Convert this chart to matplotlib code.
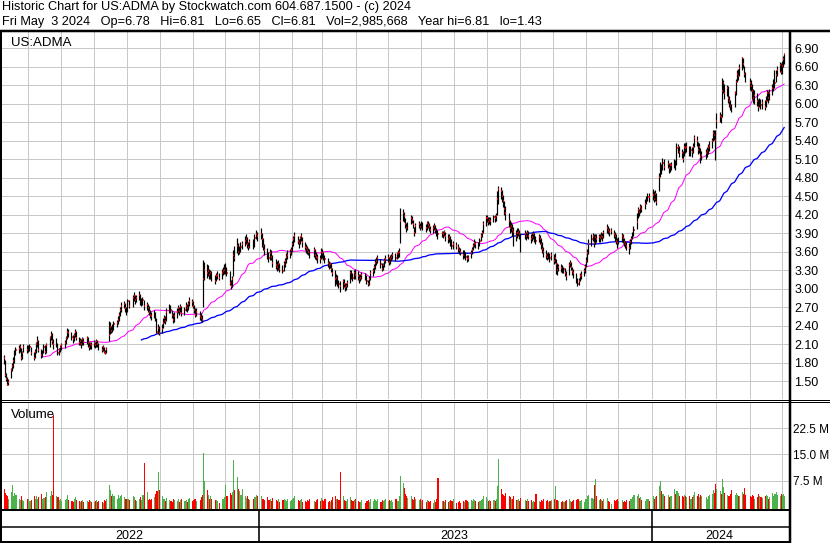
import numpy as np
import pandas as pd
import matplotlib
matplotlib.use('Agg')
import matplotlib.pyplot as plt
import matplotlib.dates as mdates

plt.rcParams['font.family'] = ['Liberation Sans', 'DejaVu Sans']

# --- daily bars, 2022-05-03 .. 2024-05-03 (one line per month) ---
close = [
    1.95, 1.98, 1.90, 1.88, 1.87, 1.60, 1.53, 1.44, 1.48, 1.68, 1.75, 1.82, 1.95, 2.00, 2.02, 2.05, 1.88, 1.95, 2.06, 2.00,
    2.02, 2.05, 1.95, 1.88, 1.98, 2.10, 2.15, 2.00, 1.92, 1.96, 2.05, 1.98, 2.08, 2.20, 2.25, 2.15, 2.10, 2.14, 1.95, 2.00, 2.05,
    2.08, 2.12, 2.20, 2.30, 2.28, 2.22, 2.18, 2.25, 2.30, 2.20, 2.12, 2.15, 2.10, 2.18, 2.14, 2.20, 2.12, 2.05, 2.10, 2.08,
    2.12, 2.08, 2.15, 2.10, 2.05, 2.00, 2.05, 1.98, 1.96, 2.02, 2.25, 2.38, 2.32, 2.35, 2.42, 2.45, 2.50, 2.58, 2.65, 2.72, 2.75, 2.68, 2.62,
    2.80, 2.72, 2.85, 2.88, 2.82, 2.85, 2.90, 2.78, 2.80, 2.81, 2.72, 2.74, 2.68, 2.62, 2.58, 2.55, 2.60, 2.52, 2.30, 2.36, 2.28,
    2.35, 2.45, 2.52, 2.48, 2.62, 2.70, 2.65, 2.58, 2.50, 2.55, 2.62, 2.68, 2.64, 2.70, 2.60, 2.66, 2.72, 2.68, 2.75, 2.80, 2.78,
    2.72, 2.65, 2.58, 2.62, 2.55, 2.52, 2.50, 3.15, 3.30, 3.26, 3.28, 3.22, 3.25, 3.18, 3.12, 3.20, 3.22, 3.18, 3.25, 3.28, 3.30,
    3.38, 3.25, 3.10, 3.05, 3.15, 3.55, 3.50, 3.70, 3.60, 3.65, 3.68, 3.72, 3.78, 3.80, 3.72, 3.68, 3.75, 3.70, 3.82, 3.88, 3.85,
    3.88, 3.80, 3.70, 3.62, 3.55, 3.50, 3.58, 3.52, 3.42, 3.38, 3.35, 3.40, 3.32, 3.28, 3.40, 3.45, 3.52, 3.55, 3.58, 3.62,
    3.72, 3.80, 3.85, 3.78, 3.74, 3.82, 3.85, 3.75, 3.68, 3.66, 3.62, 3.60, 3.58, 3.62, 3.55, 3.52, 3.50, 3.48, 3.60,
    3.58, 3.52, 3.48, 3.42, 3.38, 3.40, 3.32, 3.25, 3.15, 3.18, 3.10, 3.08, 3.05, 3.12, 3.08, 3.02, 3.05, 3.10, 3.25, 3.22, 3.18, 3.25, 3.22,
    3.20, 3.15, 3.18, 3.22, 3.20, 3.12, 3.08, 3.15, 3.25, 3.28, 3.35, 3.42, 3.45, 3.50, 3.40, 3.32, 3.38, 3.45, 3.48,
    3.50, 3.44, 3.48, 3.52, 3.55, 3.50, 3.56, 3.58, 3.60, 4.10, 4.22, 4.18, 4.05, 3.98, 4.02, 4.15, 4.12, 4.05, 3.90, 4.02, 4.05, 4.00,
    4.05, 4.02, 3.98, 4.06, 4.04, 4.00, 3.96, 3.98, 4.02, 3.95, 3.92, 3.88, 3.90, 3.88, 3.92, 3.85, 3.80, 3.84, 3.78, 3.70, 3.72,
    3.70, 3.66, 3.62, 3.60, 3.55, 3.58, 3.52, 3.48, 3.50, 3.58, 3.62, 3.70, 3.74, 3.72, 3.70, 3.78, 3.85, 3.90, 4.05, 4.15,
    4.15, 4.08, 4.12, 4.10, 4.16, 4.14, 4.18, 4.45, 4.62, 4.58, 4.50, 4.42, 4.30, 4.22, 4.10, 3.98, 4.02, 3.95, 3.92, 3.85, 3.90, 3.92, 3.88,
    3.82, 3.88, 3.85, 3.90, 3.86, 3.80, 3.84, 3.88, 3.82, 3.78, 3.84, 3.80, 3.72, 3.65, 3.60, 3.55, 3.52, 3.56, 3.50, 3.54,
    3.45, 3.50, 3.40, 3.30, 3.36, 3.34, 3.30, 3.32, 3.26, 3.20, 3.38, 3.42, 3.35, 3.28, 3.25, 3.15, 3.08, 3.12, 3.20, 3.22, 3.28, 3.35,
    3.45, 3.58, 3.72, 3.80, 3.85, 3.74, 3.84, 3.80, 3.84, 3.82, 3.86, 3.84, 3.90, 3.98, 3.95, 3.92, 3.94, 3.88, 3.85, 3.78, 3.74,
    3.78, 3.85, 3.82, 3.76, 3.72, 3.70, 3.66, 3.75, 3.80, 3.88, 3.95, 4.08, 4.27, 4.24, 4.32, 4.30, 4.38, 4.45, 4.49, 4.48,
    4.52, 4.46, 4.54, 4.40, 4.82, 4.95, 4.90, 5.04, 4.98, 5.02, 4.95, 5.00, 5.01, 5.06, 4.98, 5.28, 5.30, 5.22, 5.20, 5.10, 5.30,
    5.28, 5.30, 5.20, 5.25, 5.22, 5.30, 5.44, 5.40, 5.25, 5.30, 5.14, 5.17, 5.20, 5.24, 5.28, 5.32, 5.39, 5.52, 5.50, 5.42,
    5.72, 5.80, 5.78, 6.20, 6.33, 6.17, 6.25, 6.10, 6.04, 5.96, 5.93, 6.17, 6.36, 6.49, 6.45, 6.58, 6.74, 6.65, 6.49, 6.40,
    6.33, 6.28, 6.20, 6.09, 6.14, 6.05, 5.95, 6.04, 5.98, 6.01, 5.95, 6.05, 6.17, 6.09, 6.18, 6.25, 6.30, 6.33, 6.47, 6.55, 6.63, 6.52,
    6.62, 6.72, 6.81,
]
high = [
    2.00, 2.02, 1.99, 1.94, 1.92, 1.84, 1.63, 1.56, 1.53, 1.71, 1.80, 1.90, 2.01, 2.06, 2.08, 2.10, 2.04, 1.99, 2.10, 2.09,
    2.08, 2.10, 2.06, 1.98, 2.02, 2.14, 2.24, 2.16, 2.02, 2.00, 2.10, 2.08, 2.12, 2.24, 2.31, 2.28, 2.18, 2.20, 2.12, 2.04, 2.09,
    2.12, 2.16, 2.24, 2.36, 2.34, 2.30, 2.25, 2.28, 2.35, 2.32, 2.22, 2.20, 2.18, 2.22, 2.20, 2.24, 2.22, 2.14, 2.14, 2.13,
    2.16, 2.14, 2.18, 2.17, 2.12, 2.07, 2.09, 2.06, 2.01, 2.05, 2.47, 2.46, 2.40, 2.42, 2.47, 2.50, 2.56, 2.62, 2.70, 2.78, 2.80, 2.77, 2.70,
    2.84, 2.82, 2.90, 2.95, 2.90, 2.89, 2.96, 2.92, 2.85, 2.86, 2.82, 2.79, 2.76, 2.72, 2.66, 2.62, 2.65, 2.63, 2.52, 2.42, 2.40,
    2.42, 2.52, 2.58, 2.56, 2.68, 2.76, 2.74, 2.66, 2.60, 2.62, 2.68, 2.74, 2.70, 2.76, 2.72, 2.70, 2.78, 2.75, 2.80, 2.86, 2.84,
    2.80, 2.74, 2.68, 2.68, 2.64, 2.60, 2.58, 3.46, 3.44, 3.40, 3.38, 3.32, 3.30, 3.28, 3.22, 3.26, 3.28, 3.25, 3.32, 3.36, 3.40,
    3.42, 3.36, 3.28, 3.14, 3.20, 3.62, 3.70, 3.82, 3.74, 3.70, 3.75, 3.78, 3.85, 3.88, 3.84, 3.76, 3.80, 3.80, 3.88, 3.95, 3.92,
    3.98, 3.90, 3.82, 3.72, 3.66, 3.60, 3.64, 3.62, 3.55, 3.48, 3.45, 3.46, 3.42, 3.38, 3.45, 3.50, 3.58, 3.62, 3.65, 3.68,
    3.78, 3.86, 3.92, 3.86, 3.80, 3.86, 3.90, 3.84, 3.76, 3.72, 3.70, 3.66, 3.64, 3.68, 3.64, 3.60, 3.56, 3.55, 3.66,
    3.64, 3.60, 3.55, 3.50, 3.45, 3.44, 3.42, 3.34, 3.30, 3.24, 3.22, 3.14, 3.12, 3.16, 3.15, 3.10, 3.09, 3.14, 3.30, 3.30, 3.26, 3.30, 3.32,
    3.28, 3.24, 3.24, 3.27, 3.26, 3.22, 3.14, 3.20, 3.30, 3.34, 3.40, 3.48, 3.52, 3.55, 3.48, 3.42, 3.42, 3.50, 3.54,
    3.57, 3.52, 3.54, 3.56, 3.60, 3.58, 3.60, 3.63, 3.66, 4.31, 4.30, 4.24, 4.14, 4.06, 4.08, 4.20, 4.18, 4.12, 4.00, 4.06, 4.10, 4.06,
    4.10, 4.08, 4.05, 4.10, 4.10, 4.06, 4.02, 4.03, 4.06, 4.04, 3.98, 3.96, 3.94, 3.93, 3.96, 3.92, 3.88, 3.88, 3.86, 3.80, 3.78,
    3.76, 3.72, 3.68, 3.66, 3.62, 3.63, 3.60, 3.55, 3.55, 3.62, 3.67, 3.74, 3.80, 3.78, 3.76, 3.82, 3.90, 3.95, 4.10, 4.20,
    4.20, 4.16, 4.17, 4.16, 4.20, 4.19, 4.22, 4.58, 4.66, 4.65, 4.60, 4.52, 4.42, 4.34, 4.22, 4.12, 4.08, 4.05, 4.00, 3.95, 3.98, 3.98, 3.96,
    3.90, 3.95, 3.92, 3.96, 3.93, 3.88, 3.90, 3.94, 3.90, 3.86, 3.88, 3.87, 3.82, 3.75, 3.68, 3.63, 3.58, 3.60, 3.58, 3.60,
    3.56, 3.58, 3.48, 3.42, 3.40, 3.40, 3.38, 3.36, 3.34, 3.28, 3.44, 3.46, 3.44, 3.36, 3.32, 3.26, 3.18, 3.18, 3.25, 3.28, 3.33, 3.40,
    3.52, 3.64, 3.80, 3.88, 3.90, 3.88, 3.88, 3.88, 3.88, 3.88, 3.92, 3.90, 3.96, 4.05, 4.02, 3.98, 3.98, 3.95, 3.92, 3.88, 3.82,
    3.84, 3.90, 3.88, 3.82, 3.78, 3.76, 3.74, 3.80, 3.86, 3.92, 4.02, 4.22, 4.32, 4.30, 4.38, 4.36, 4.45, 4.50, 4.55, 4.56,
    4.62, 4.58, 4.60, 4.56, 4.88, 5.05, 5.02, 5.12, 5.10, 5.08, 5.04, 5.04, 5.06, 5.10, 5.08, 5.36, 5.35, 5.32, 5.26, 5.24, 5.36,
    5.36, 5.38, 5.32, 5.32, 5.30, 5.36, 5.50, 5.48, 5.38, 5.36, 5.28, 5.24, 5.26, 5.30, 5.34, 5.40, 5.45, 5.58, 5.58, 5.58,
    5.85, 5.86, 5.84, 6.41, 6.38, 6.32, 6.30, 6.28, 6.12, 6.06, 6.00, 6.20, 6.40, 6.55, 6.56, 6.64, 6.76, 6.74, 6.62, 6.52,
    6.42, 6.38, 6.32, 6.24, 6.22, 6.18, 6.08, 6.10, 6.08, 6.08, 6.06, 6.12, 6.22, 6.20, 6.24, 6.32, 6.40, 6.55, 6.55, 6.62, 6.68, 6.66,
    6.70, 6.78, 6.81,
]
low = [
    1.90, 1.92, 1.86, 1.84, 1.78, 1.56, 1.50, 1.43, 1.43, 1.55, 1.66, 1.72, 1.80, 1.92, 1.96, 1.98, 1.85, 1.86, 1.97, 1.96,
    1.97, 1.99, 1.92, 1.85, 1.87, 1.96, 2.06, 1.98, 1.88, 1.89, 1.95, 1.94, 1.96, 2.05, 2.16, 2.10, 2.02, 2.06, 1.93, 1.92, 1.97,
    2.00, 2.04, 2.10, 2.18, 2.22, 2.16, 2.12, 2.15, 2.22, 2.16, 2.08, 2.08, 2.04, 2.08, 2.09, 2.10, 2.06, 2.00, 2.02, 2.03,
    2.06, 2.04, 2.06, 2.06, 2.00, 1.97, 1.99, 1.96, 1.94, 1.96, 2.15, 2.26, 2.28, 2.29, 2.33, 2.38, 2.43, 2.48, 2.56, 2.62, 2.68, 2.62, 2.57,
    2.62, 2.68, 2.70, 2.80, 2.76, 2.78, 2.82, 2.74, 2.72, 2.74, 2.66, 2.66, 2.62, 2.57, 2.52, 2.50, 2.52, 2.48, 2.28, 2.26, 2.25,
    2.28, 2.36, 2.44, 2.42, 2.48, 2.60, 2.60, 2.52, 2.45, 2.46, 2.53, 2.60, 2.58, 2.62, 2.55, 2.58, 2.64, 2.62, 2.66, 2.72, 2.72,
    2.68, 2.60, 2.54, 2.55, 2.50, 2.48, 2.46, 2.70, 3.14, 3.18, 3.20, 3.15, 3.16, 3.12, 3.08, 3.12, 3.15, 3.14, 3.16, 3.22, 3.24,
    3.24, 3.20, 3.06, 3.00, 3.02, 3.20, 3.45, 3.58, 3.55, 3.56, 3.60, 3.64, 3.70, 3.72, 3.66, 3.62, 3.66, 3.64, 3.68, 3.80, 3.78,
    3.80, 3.68, 3.62, 3.55, 3.48, 3.44, 3.46, 3.46, 3.36, 3.32, 3.28, 3.30, 3.27, 3.25, 3.28, 3.36, 3.42, 3.48, 3.50, 3.54,
    3.60, 3.70, 3.76, 3.72, 3.66, 3.72, 3.78, 3.68, 3.62, 3.58, 3.56, 3.54, 3.50, 3.52, 3.48, 3.46, 3.42, 3.42, 3.48,
    3.50, 3.46, 3.42, 3.36, 3.32, 3.33, 3.27, 3.20, 3.04, 3.08, 3.04, 3.01, 2.95, 3.00, 3.02, 2.97, 2.98, 3.02, 3.10, 3.16, 3.12, 3.16, 3.16,
    3.14, 3.10, 3.12, 3.15, 3.14, 3.07, 3.04, 3.06, 3.14, 3.20, 3.26, 3.32, 3.38, 3.42, 3.34, 3.28, 3.30, 3.36, 3.42,
    3.44, 3.38, 3.40, 3.45, 3.48, 3.45, 3.48, 3.50, 3.52, 3.74, 4.10, 4.08, 3.98, 3.92, 3.95, 4.05, 4.06, 3.98, 3.85, 3.90, 3.98, 3.95,
    3.98, 3.96, 3.92, 3.96, 3.98, 3.94, 3.90, 3.91, 3.95, 3.90, 3.86, 3.80, 3.84, 3.82, 3.85, 3.78, 3.74, 3.76, 3.70, 3.64, 3.65,
    3.64, 3.60, 3.56, 3.54, 3.48, 3.50, 3.46, 3.44, 3.45, 3.50, 3.56, 3.62, 3.68, 3.66, 3.64, 3.70, 3.78, 3.84, 3.90, 4.02,
    4.08, 4.04, 4.05, 4.04, 4.08, 4.08, 4.10, 4.20, 4.38, 4.45, 4.40, 4.32, 4.20, 4.12, 4.00, 3.90, 3.92, 3.86, 3.70, 3.78, 3.82, 3.85, 3.80,
    3.60, 3.80, 3.79, 3.82, 3.80, 3.74, 3.77, 3.80, 3.76, 3.72, 3.76, 3.72, 3.65, 3.58, 3.52, 3.48, 3.46, 3.49, 3.44, 3.47,
    3.40, 3.42, 3.24, 3.22, 3.28, 3.27, 3.25, 3.26, 3.20, 3.14, 3.22, 3.35, 3.30, 3.22, 3.18, 3.10, 3.05, 3.06, 3.12, 3.15, 3.20, 3.26,
    3.36, 3.44, 3.56, 3.70, 3.78, 3.68, 3.72, 3.76, 3.76, 3.76, 3.80, 3.78, 3.82, 3.90, 3.88, 3.86, 3.88, 3.82, 3.78, 3.72, 3.66,
    3.72, 3.76, 3.74, 3.70, 3.66, 3.62, 3.57, 3.65, 3.72, 3.80, 3.86, 3.97, 4.15, 4.18, 4.22, 4.24, 4.30, 4.38, 4.42, 4.40,
    4.44, 4.40, 4.42, 4.36, 4.58, 4.82, 4.86, 4.93, 4.92, 4.95, 4.88, 4.90, 4.92, 4.96, 4.92, 5.00, 5.20, 5.14, 5.12, 5.05, 5.15,
    5.20, 5.22, 5.15, 5.16, 5.14, 5.20, 5.30, 5.32, 5.18, 5.20, 5.04, 5.08, 5.10, 5.14, 5.18, 5.24, 5.28, 5.40, 5.42, 5.09,
    5.60, 5.70, 5.68, 5.78, 6.18, 6.08, 6.12, 6.02, 5.94, 5.90, 5.87, 5.95, 6.15, 6.35, 6.38, 6.45, 6.55, 6.58, 6.44, 6.36,
    6.22, 6.20, 6.08, 6.02, 6.00, 5.96, 5.89, 5.94, 5.92, 5.92, 5.90, 5.95, 6.04, 6.02, 6.06, 6.14, 6.20, 6.25, 6.36, 6.45, 6.52, 6.48,
    6.48, 6.60, 6.65,
]
# volume in millions of shares
volume_m = [
    2.0, 2.4, 2.2, 1.9, 5.2, 4.0, 3.5, 3.0, 2.4, 4.3, 6.2, 3.2, 4.0, 3.4, 2.2, 1.9, 3.0, 2.0, 1.6, 2.2,
    2.4, 1.8, 2.0, 3.0, 2.2, 3.2, 2.3, 2.7, 3.8, 2.2, 2.6, 2.8, 4.2, 3.0, 4.6, 3.5, 26.2, 3.1, 2.7, 2.0, 2.2,
    1.6, 1.9, 2.4, 3.5, 2.0, 1.8, 1.5, 2.2, 2.7, 1.9, 1.6, 1.4, 1.8, 2.0, 1.5, 1.6, 1.4, 1.9, 1.8, 1.5,
    1.4, 1.6, 2.0, 1.4, 1.8, 1.5, 1.2, 1.9, 1.6, 2.2, 6.4, 4.7, 3.0, 3.8, 3.2, 2.4, 3.4, 2.6, 3.0, 3.5, 2.7, 2.2, 2.4,
    2.2, 1.9, 3.0, 2.7, 2.0, 1.6, 2.4, 2.8, 1.9, 3.4, 12.7, 4.3, 2.0, 2.4, 1.9, 2.2, 2.7, 3.8, 4.6, 10.0, 4.9,
    3.2, 2.4, 2.2, 1.6, 2.6, 2.0, 1.8, 1.5, 2.2, 1.9, 1.6, 2.4, 1.4, 2.0, 2.3, 1.8, 1.9, 1.5, 2.2, 2.6, 1.6,
    1.9, 2.2, 2.4, 1.6, 2.0, 2.7, 3.5, 15.5, 7.4, 4.8, 3.4, 2.4, 3.0, 2.2, 1.9, 2.0, 1.6, 1.1, 2.2, 2.4, 2.7,
    6.4, 3.2, 4.0, 3.5, 4.3, 13.4, 4.8, 8.7, 5.0, 4.6, 3.5, 5.1, 3.0, 2.6, 3.2, 2.2, 1.9, 2.4, 2.7, 3.5, 3.0,
    3.0, 2.4, 2.2, 2.0, 2.7, 1.9, 2.3, 1.6, 2.6, 2.0, 1.8, 2.2, 1.5, 1.9, 2.4, 2.0, 1.6, 2.2, 1.8, 2.0,
    2.2, 2.6, 3.0, 1.9, 1.6, 2.0, 2.4, 1.5, 1.8, 1.4, 1.9, 1.6, 2.2, 1.8, 1.5, 2.0, 2.3, 1.6, 2.6,
    1.9, 1.6, 2.2, 1.5, 1.8, 1.4, 2.0, 2.7, 3.2, 2.2, 2.4, 1.9, 10.0, 3.0, 2.0, 1.8, 1.6, 2.2, 2.8, 1.9, 1.6, 2.0, 2.3,
    1.6, 1.4, 1.5, 1.9, 1.2, 1.8, 2.0, 1.5, 2.2, 1.6, 2.4, 1.9, 1.8, 2.3, 1.5, 2.0, 1.6, 1.9, 2.2,
    1.8, 2.0, 1.6, 1.9, 1.5, 2.2, 1.8, 1.6, 3.2, 8.9, 6.9, 5.3, 3.8, 3.0, 2.6, 3.2, 2.3, 2.0, 2.7, 2.2, 1.9, 2.4,
    1.6, 1.9, 1.5, 2.0, 1.8, 1.4, 1.6, 1.2, 1.9, 1.5, 2.2, 8.4, 1.8, 1.6, 1.4, 1.9, 1.5, 1.8, 2.0, 1.6, 2.2,
    1.1, 1.4, 1.6, 1.2, 1.8, 1.5, 1.9, 1.6, 1.4, 2.0, 1.8, 2.2, 1.9, 1.6, 1.5, 1.8, 2.0, 2.4, 3.2, 2.7,
    2.2, 1.8, 1.9, 1.6, 2.0, 1.8, 2.4, 6.0, 13.8, 5.0, 3.8, 3.5, 3.0, 4.0, 3.2, 2.7, 2.4, 2.2, 3.0, 2.0, 1.9, 2.3, 1.8,
    2.6, 2.0, 1.8, 2.2, 1.6, 1.9, 1.5, 1.8, 1.4, 3.8, 1.6, 1.5, 2.0, 1.8, 2.2, 1.6, 1.9, 1.4, 1.8, 2.0,
    2.4, 6.0, 2.0, 1.9, 1.6, 1.4, 1.8, 1.5, 1.6, 1.9, 2.2, 1.8, 1.5, 1.6, 2.0, 1.9, 2.3, 1.8, 1.6, 2.0, 1.5, 2.2,
    2.4, 3.0, 3.5, 2.6, 2.2, 6.3, 8.0, 3.2, 2.0, 2.4, 1.9, 1.6, 2.2, 2.6, 1.8, 1.5, 0.9, 1.9, 1.6, 2.0, 2.2,
    1.8, 2.0, 1.5, 1.6, 1.4, 1.9, 1.8, 2.2, 2.4, 2.7, 3.5, 3.2, 3.8, 2.6, 2.7, 2.0, 1.8, 2.3, 2.2, 1.6,
    3.2, 2.4, 2.7, 3.0, 6.0, 7.4, 4.6, 3.8, 3.2, 3.5, 2.7, 3.0, 3.2, 5.2, 3.8, 4.6, 4.0, 3.0, 3.2, 2.7, 3.5,
    3.0, 2.7, 3.2, 2.4, 2.8, 3.5, 4.3, 3.2, 3.8, 2.7, 3.5, 3.0, 2.7, 2.4, 3.0, 3.4, 3.8, 4.9, 4.0, 6.5,
    5.0, 4.6, 3.8, 8.0, 5.6, 4.0, 3.5, 3.2, 3.0, 3.8, 4.9, 3.4, 4.0, 3.5, 3.0, 3.2, 4.3, 3.8, 5.3, 3.5,
    3.2, 2.7, 3.5, 3.0, 2.4, 2.7, 3.8, 3.0, 2.7, 2.6, 3.2, 3.5, 3.0, 2.4, 2.7, 4.0, 3.2, 3.8, 4.3, 3.5, 3.0, 3.8,
    3.4, 3.6, 2.99,
]
market_holidays = [
    '2022-05-30', '2022-06-20', '2022-07-04', '2022-09-05', '2022-11-24', '2022-12-26',
    '2023-01-02', '2023-01-16', '2023-02-20', '2023-04-07', '2023-05-29', '2023-06-19',
    '2023-07-04', '2023-09-04', '2023-11-23', '2023-12-25',
    '2024-01-01', '2024-01-15', '2024-02-19', '2024-03-29',
]
price_levels = [1.50, 1.80, 2.10, 2.40, 2.70, 3.00, 3.30, 3.60, 3.90, 4.20, 4.50, 4.80,
                5.10, 5.40, 5.70, 6.00, 6.30, 6.60, 6.90]
volume_levels = [7.5, 15.0, 22.5]
year_labels = ['2022', '2023', '2024']

header1 = 'Historic Chart for US:ADMA by Stockwatch.com 604.687.1500 - (c) 2024'
header2 = ('Fri May  3 2024   Op=6.78   Hi=6.81   Lo=6.65   Cl=6.81   '
           'Vol=2,985,668   Year hi=6.81   lo=1.43')

dates = pd.bdate_range('2022-05-03', '2024-05-03')
dates = dates[~dates.isin(pd.to_datetime(market_holidays))]
lens = (len(dates), len(close), len(high), len(low), len(volume_m))
if len(set(lens)) != 1:
    raise SystemExit('length mismatch: %s' % (lens,))

x = mdates.date2num(dates)
cl = pd.Series(close)
ma30 = cl.rolling(30).mean()
ma93 = cl.rolling(93).mean()
vol = np.array(volume_m) * 1e6
diff = np.diff(np.r_[close[0] - 1, close])
vol_colors = np.where(diff > 0, '#4cb34c', np.where(diff < 0, '#ff0000', '#a0a0a0'))

# --- figure in pixel units ---
W, H = 830, 543
fig = plt.figure(figsize=(W / 100, H / 100), dpi=100)
fig.patch.set_facecolor('white')
PT = 0.72  # one pixel in points


def box(x0, y0, x1, y1):
    return [x0 / W, 1 - y1 / H, (x1 - x0) / W, (y1 - y0) / H]


x_left = mdates.date2num(pd.Timestamp('2022-05-07 12:00'))
x_right = mdates.date2num(pd.Timestamp('2024-05-07 12:00'))
month_starts = mdates.date2num(pd.date_range('2022-06-01', '2024-05-01', freq='MS'))
grid_c = '#c8c8c8'


def base_axes(rect, label_size, pad):
    a = fig.add_axes(rect)
    a.set_xlim(x_left, x_right)
    for s in a.spines.values():
        s.set_visible(False)
    a.set_xticks(month_starts)
    a.tick_params(axis='x', length=0, labelbottom=False)
    a.yaxis.tick_right()
    a.tick_params(axis='y', length=0, pad=pad, labelsize=label_size)
    a.grid(True, color=grid_c, lw=1.0 * PT)
    a.set_axisbelow(True)
    return a


# price panel
ax = base_axes(box(2, 32, 789, 399), 9, 3.8)
ax.set_ylim(1.211, 7.164)
ax.set_yticks(price_levels)
ax.set_yticklabels(['%.2f' % v for v in price_levels])
ax.vlines(x, low, high, color='black', lw=1.2 * PT, zorder=3)
ax.hlines(close, x + 0.15, x + 1.0, color='#ff0000', lw=1.6 * PT, zorder=4)
ax.plot(x, ma30, color='#ff00ff', lw=1.0 * PT, zorder=2)
ax.plot(x, ma93, color='#0000ff', lw=1.3 * PT, zorder=2)
ax.text(8.5 / 787, 1 - 13.5 / 367, 'US:ADMA', transform=ax.transAxes,
        fontsize=9.5, va='baseline', ha='left')

# volume panel
vax = base_axes(box(2, 403, 789, 509), 8.5, 3.0)
v_lo = -0.6e6
vax.set_ylim(v_lo, 29.74e6)
vax.set_yticks([v * 1e6 for v in volume_levels])
vax.set_yticklabels(['%.1f M' % v for v in volume_levels])
vax.bar(x, vol - v_lo, bottom=v_lo, width=1.0, align='edge',
        color=vol_colors, linewidth=0, zorder=3)
vax.text(9 / 787, 1 - 15.3 / 106, 'Volume', transform=vax.transAxes,
         fontsize=9.5, va='baseline', ha='left')

# date band
dax = fig.add_axes(box(2, 509, 789, 541))
dax.set_xlim(x_left, x_right)
dax.set_ylim(0, 32)
dax.axis('off')
year_edges = [x_left] + list(mdates.date2num(pd.to_datetime(['2023-01-01', '2024-01-01']))) + [x_right]
for xe in year_edges[1:-1]:
    dax.axvline(xe, color='black', lw=1.6 * PT)
for i, lab in enumerate(year_labels):
    dax.text((year_edges[i] + year_edges[i + 1]) / 2 - 1.2, 1.8, lab,
             ha='center', va='baseline', fontsize=9)

# header text
fig.text(1.5 / W, 1 - 9.8 / H, header1, fontsize=9.2, va='baseline', ha='left')
fig.text(1.5 / W, 1 - 25.3 / H, header2, fontsize=9.2, va='baseline', ha='left')

# frame lines drawn in pixel space
ov = fig.add_axes([0, 0, 1, 1])
ov.set_xlim(0, W)
ov.set_ylim(H, 0)
ov.axis('off')
frame = [
    ((0, W), (30.8, 30.8), 2.5),
    ((1.0, 1.0), (30, 542.5), 2.0),
    ((790.0, 790.0), (30, 542.5), 2.5),
    ((0, W), (400.0, 400.0), 1.0),
    ((0, W), (402.2, 402.2), 1.0),
    ((0, 790), (509.8, 509.8), 2.0),
    ((0, 790), (527.4, 527.4), 1.5),
    ((0, 790), (541.5, 541.5), 2.0),
]
for xs, ys, w in frame:
    ov.plot(xs, ys, color='black', lw=w * PT, solid_capstyle='butt')

fig.savefig('out.png', dpi=100, facecolor='white')
